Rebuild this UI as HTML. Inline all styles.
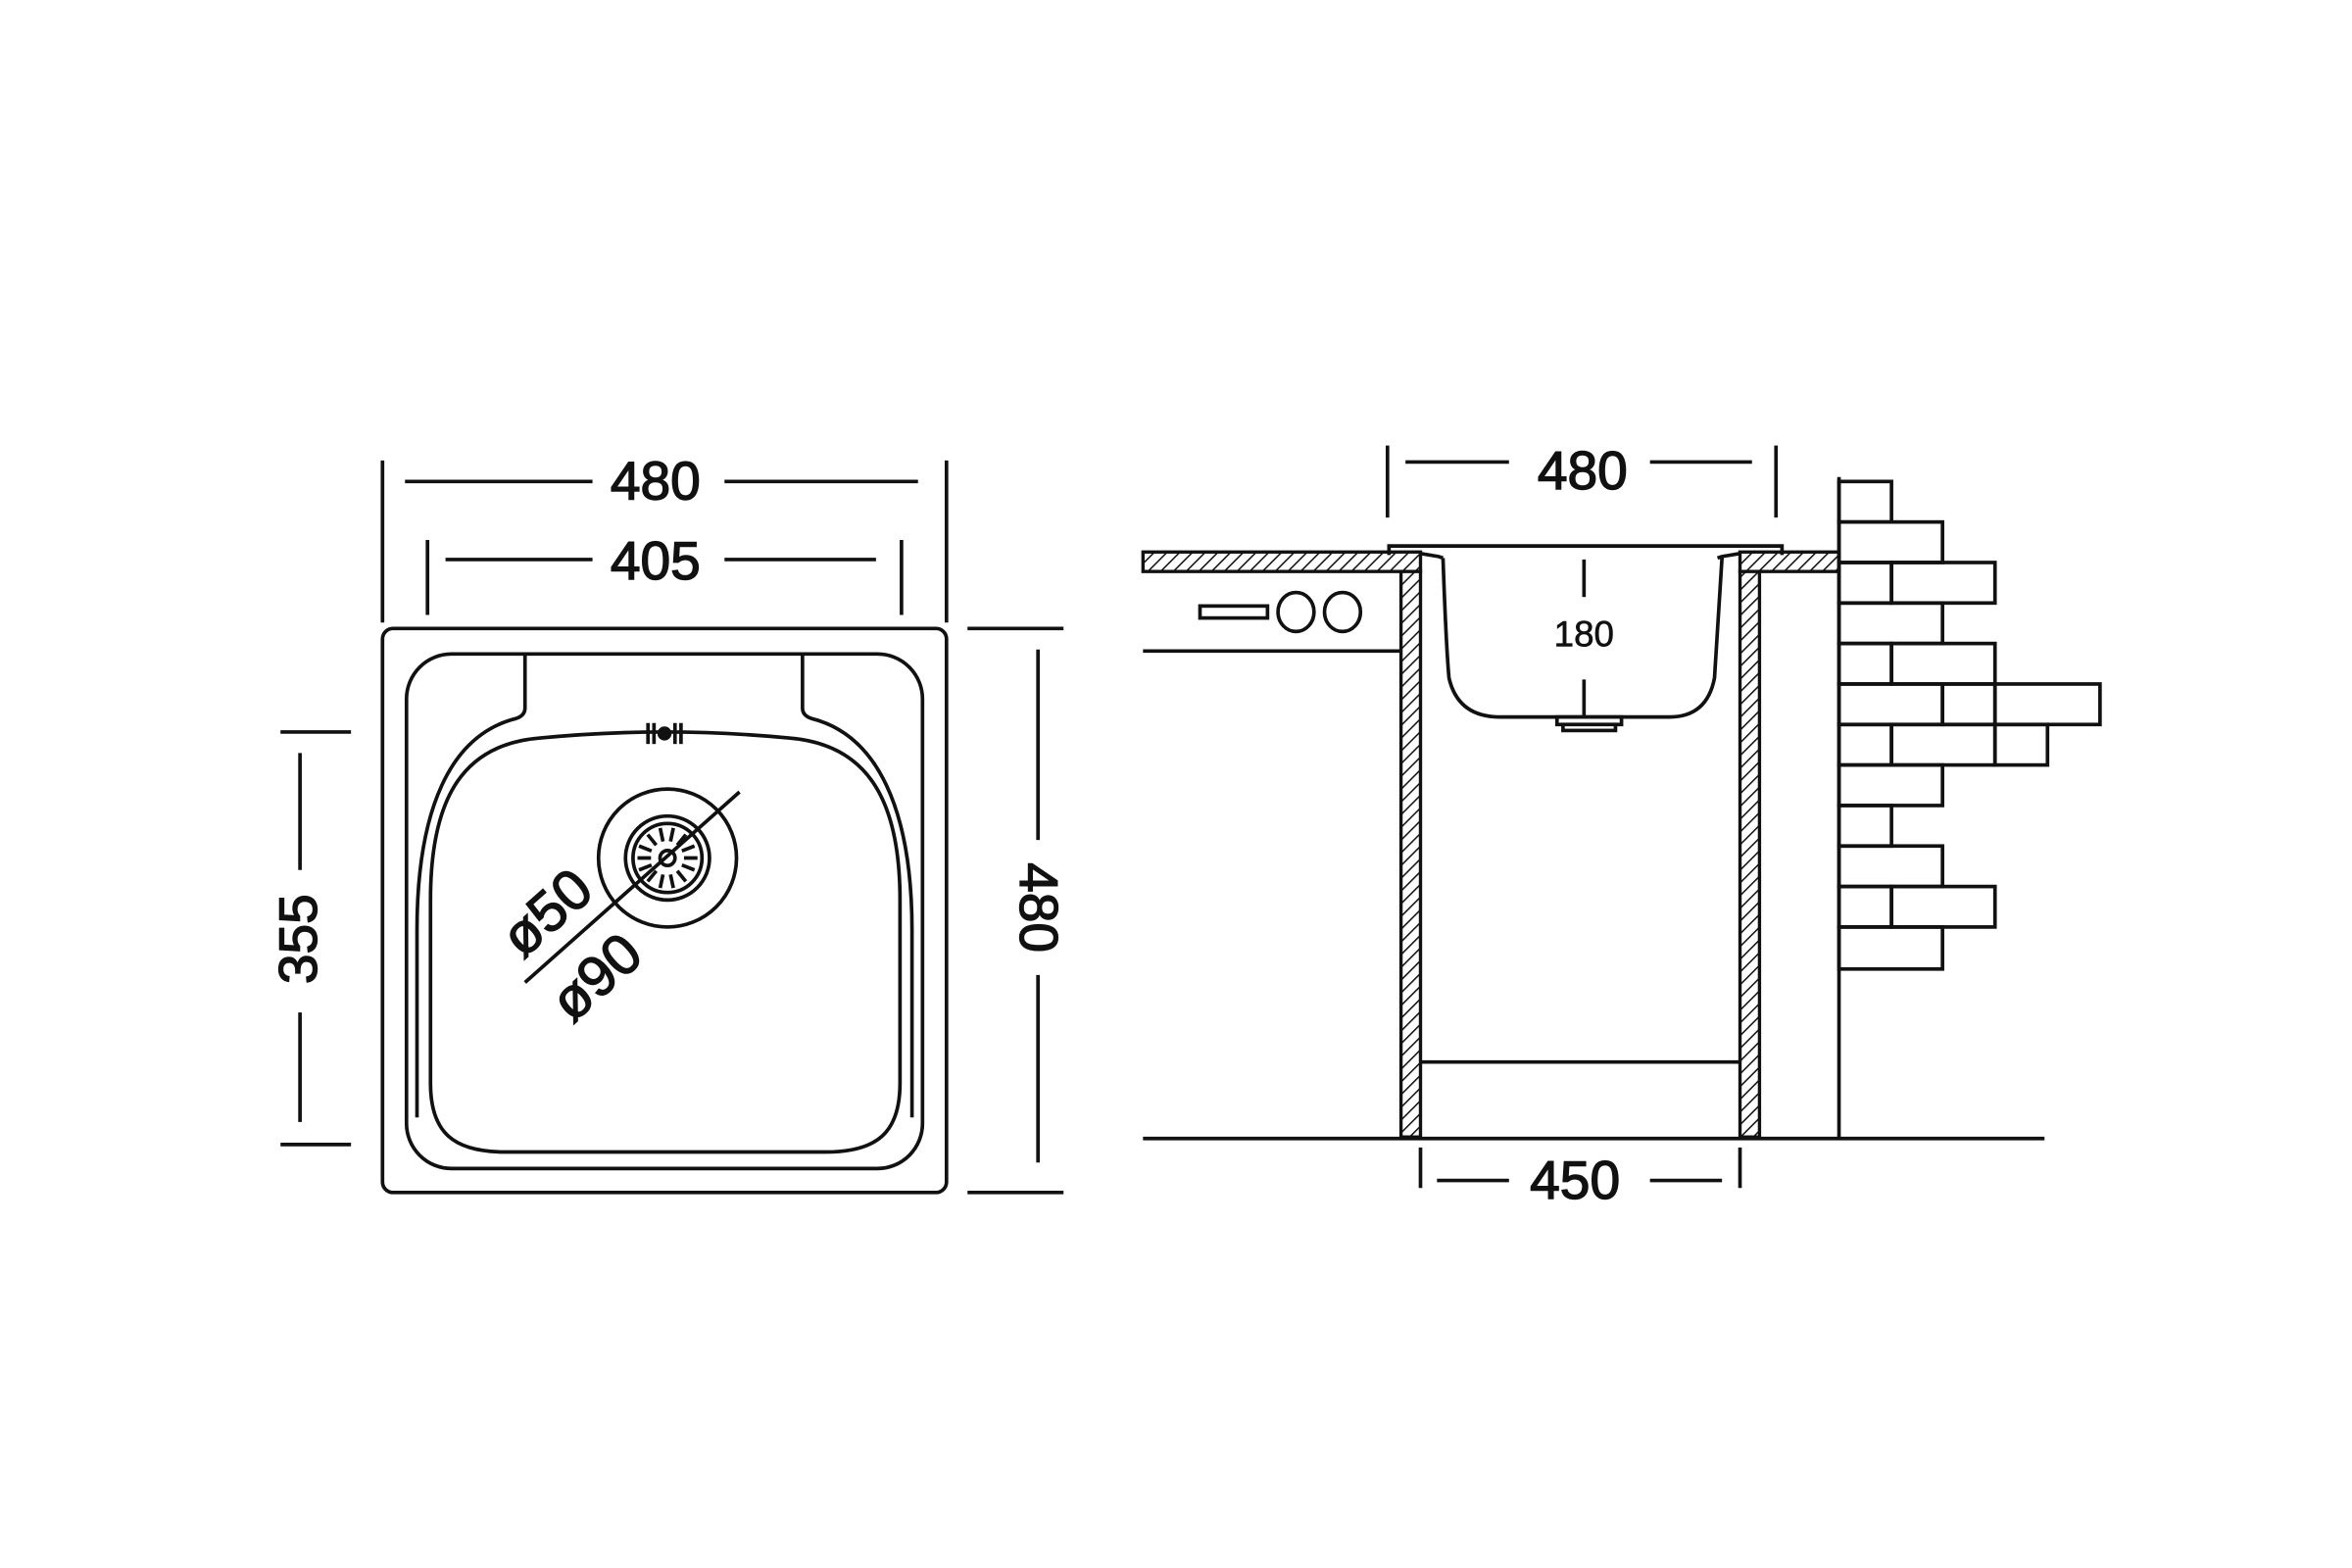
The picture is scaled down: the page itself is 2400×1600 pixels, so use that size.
<!DOCTYPE html>
<html><head><meta charset="utf-8"><style>
html,body{margin:0;padding:0;background:#fff;}
svg{display:block;}
text{font-family:"Liberation Sans",sans-serif;fill:#111;stroke:#111;stroke-width:0.9;}
</style></head><body>
<svg width="2400" height="1600" viewBox="0 0 1568 1045.33" preserveAspectRatio="none" xmlns="http://www.w3.org/2000/svg">
<defs>
<pattern id="h" patternUnits="userSpaceOnUse" width="6" height="6" patternTransform="rotate(45)">
<rect width="6" height="6" fill="#fff"/><line x1="0" y1="0" x2="0" y2="6" stroke="#111" stroke-width="2"/>
</pattern>
</defs>
<g fill="none" stroke="#111" stroke-width="2.4">
<line x1="255" y1="307" x2="255" y2="415"/><line x1="631" y1="307" x2="631" y2="415"/>
<line x1="270" y1="321" x2="395" y2="321"/><line x1="483" y1="321" x2="612" y2="321"/>
<line x1="285" y1="360" x2="285" y2="410"/><line x1="601" y1="360" x2="601" y2="410"/>
<line x1="297" y1="373" x2="395" y2="373"/><line x1="483" y1="373" x2="584" y2="373"/>
<line x1="645" y1="419" x2="709" y2="419"/><line x1="645" y1="795" x2="709" y2="795"/>
<line x1="692" y1="433" x2="692" y2="560"/><line x1="692" y1="650" x2="692" y2="775"/>
<line x1="187" y1="488" x2="234" y2="488"/><line x1="187" y1="763" x2="234" y2="763"/>
<line x1="200" y1="502" x2="200" y2="580"/><line x1="200" y1="675" x2="200" y2="748"/>
<rect x="255" y="419" width="376" height="376" rx="7"/>
<rect x="271" y="436" width="344" height="343" rx="30"/>
<path d="M350,437 V472 Q350,477 344,479 C300,490 278,540 278,620 V745"/>
<path d="M535,437 V472 Q535,477 541,479 C585,490 608,540 608,620 V745"/>
<path d="M287,600 C287,530 310,496 360,492 Q443,484 526,492 C576,496 600,530 600,600 V722 C600,755 585,768 550,768 H337 C302,768 287,755 287,722 Z"/>
<line x1="432" y1="482" x2="432" y2="496"/><line x1="436" y1="482" x2="436" y2="496"/>
<line x1="450" y1="482" x2="450" y2="496"/><line x1="454" y1="482" x2="454" y2="496"/>
<circle cx="443" cy="489" r="3.5" fill="#111"/>
<circle cx="445" cy="572" r="46"/>
<circle cx="445" cy="572" r="28"/>
<circle cx="445" cy="572" r="23"/>
<circle cx="445" cy="572" r="5"/>
<path d="M456,572h9M454.6,576.7l8.4,3.3M451.5,580.6l5.7,7M447,583l1.9,9M442,583l-1.9,9M437.5,580.6l-5.7,7M434.4,576.7l-8.4,3.3M434,572h-9M434.4,567.3l-8.4,-3.3M437.5,563.4l-5.7,-7M442,561l-1.9,-9M447,561l1.9,-9M451.5,563.4l5.7,-7M454.6,567.3l8.4,-3.3"/>
<line x1="350" y1="655" x2="493" y2="528"/>
<line x1="925" y1="297" x2="925" y2="345"/><line x1="1184" y1="297" x2="1184" y2="345"/>
<line x1="937" y1="308" x2="1006" y2="308"/><line x1="1100" y1="308" x2="1168" y2="308"/>
<line x1="947" y1="765" x2="947" y2="792"/><line x1="1160" y1="765" x2="1160" y2="792"/>
<line x1="958" y1="787" x2="1006" y2="787"/><line x1="1100" y1="787" x2="1148" y2="787"/>
</g>
<g stroke="#111" stroke-width="2.2">
<rect x="762" y="368" width="185" height="13" fill="url(#h)"/>
<rect x="1160" y="368" width="66" height="13" fill="url(#h)"/>
<rect x="934" y="381" width="13" height="377" fill="url(#h)"/>
<rect x="1160" y="381" width="13" height="377" fill="url(#h)"/>
</g>
<g fill="none" stroke="#111" stroke-width="2.4">
<path d="M926,370 V364 H1188 V370"/>
<path d="M947,369 L959,371 L962,372"/>
<path d="M1160,369 L1148,371 L1145,372"/>
<path d="M962,372 C963,400 964,430 966,452 Q972,478 1000,478 H1113 Q1138,478 1143,452 L1148,372"/>
<rect x="1038" y="478" width="43" height="5" fill="#fff"/>
<rect x="1042" y="483" width="35" height="4" fill="#fff"/>
<line x1="1056" y1="373" x2="1056" y2="398"/><line x1="1056" y1="453" x2="1056" y2="478"/>
<line x1="762" y1="434" x2="934" y2="434"/>
<rect x="800" y="404" width="45" height="8"/>
<ellipse cx="864" cy="408" rx="12" ry="13"/><ellipse cx="895" cy="408" rx="12" ry="13"/>
<line x1="947" y1="708" x2="1160" y2="708"/>
<line x1="762" y1="759" x2="1363" y2="759"/>
<line x1="1226" y1="318" x2="1226" y2="759"/>
<!-- bricks -->
<rect x="1226" y="321" width="35" height="27"/>
<rect x="1226" y="348" width="69" height="27"/>
<rect x="1226" y="375" width="35" height="27"/><rect x="1261" y="375" width="69" height="27"/>
<rect x="1226" y="402" width="69" height="27"/>
<rect x="1226" y="429" width="35" height="27"/><rect x="1261" y="429" width="69" height="27"/>
<rect x="1226" y="456" width="69" height="27"/><rect x="1295" y="456" width="35" height="27"/><rect x="1330" y="456" width="70" height="27"/>
<rect x="1226" y="483" width="35" height="27"/><rect x="1261" y="483" width="69" height="27"/><rect x="1330" y="483" width="35" height="27"/>
<rect x="1226" y="510" width="69" height="27"/>
<rect x="1226" y="537" width="35" height="27"/>
<rect x="1226" y="564" width="69" height="27"/>
<rect x="1226" y="591" width="35" height="27"/><rect x="1261" y="591" width="69" height="27"/>
<rect x="1226" y="618" width="69" height="28"/>
</g>
<g font-size="36" text-anchor="middle">
<text x="437" y="333">480</text>
<text x="437" y="386">405</text>
<text x="1055" y="326">480</text>
<text x="1050" y="799">450</text>
<text transform="translate(680,605) rotate(90)">480</text>
<text transform="translate(211,626) rotate(-90)">355</text>
</g>
<text x="1056" y="431" font-size="24" text-anchor="middle" style="stroke-width:0.4">180</text>
<g font-size="38" text-anchor="middle" style="stroke-width:0.3">
<text transform="translate(373,618) rotate(-41.6)">ø50</text>
<text transform="translate(406,661) rotate(-41.6)">ø90</text>
</g>
</svg>
</body></html>
